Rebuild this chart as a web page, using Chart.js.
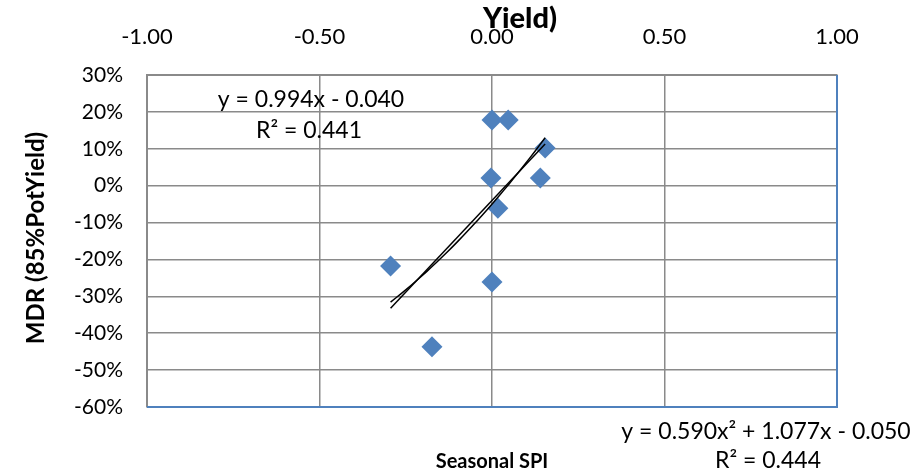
<!DOCTYPE html>
<html>
<head>
<meta charset="utf-8">
<script src="https://cdn.jsdelivr.net/npm/chart.js@4.4.1/dist/chart.umd.min.js"></script>
<style>
  html, body { margin: 0; padding: 0; background: #fff; }
  #wrap { width: 920px; height: 475px; }
</style>
</head>
<body>
<div id="wrap"><canvas id="spiChart"></canvas></div>
<script>
// Seasonal SPI vs MDR (85% potential yield)
const spiValues = [0.000, 0.047, 0.154, 0.140, -0.003, 0.017, -0.294, 0.000, -0.174];
const mdrValues = [0.178, 0.178, 0.102, 0.021, 0.021, -0.061, -0.218, -0.261, -0.437];

// trendline coefficients, highest power first
const linearCoef = [0.994, -0.040];
const polyCoef = [0.590, 1.077, -0.050];

const xTicks = [-1.0, -0.5, 0.0, 0.5, 1.0];
const yTicks = [0.3, 0.2, 0.1, 0.0, -0.1, -0.2, -0.3, -0.4, -0.5, -0.6];

const FONT = 'Lato, "Open Sans", sans-serif';

function evalPoly(coef, x) {
    return coef.reduce((acc, c) => acc * x + c, 0);
}

function trendPoints(coef, steps) {
    const lo = Math.min(...spiValues);
    const hi = Math.max(...spiValues);
    const pts = [];
    for (let i = 0; i <= steps; i++) {
        const x = lo + (hi - lo) * i / steps;
        pts.push({ x: x, y: evalPoly(coef, x) });
    }
    return pts;
}

const scatterPts = spiValues.map((x, i) => ({ x: x, y: mdrValues[i] }));

// labels, axis titles and the blue right/bottom frame
const annotations = {
    id: 'annotations',
    afterDraw(chart) {
        const ctx = chart.ctx;
        const a = chart.chartArea;
        ctx.save();

        ctx.strokeStyle = '#4F81BD';
        ctx.lineWidth = 2;
        ctx.beginPath();
        ctx.moveTo(a.left, a.bottom);
        ctx.lineTo(a.right, a.bottom);
        ctx.lineTo(a.right, a.top);
        ctx.stroke();

        ctx.fillStyle = '#000';
        ctx.textAlign = 'center';
        ctx.textBaseline = 'middle';

        ctx.font = '900 29px ' + FONT;
        ctx.fillText('Yield)', 520, 19);

        ctx.font = 'bold 20px ' + FONT;
        ctx.fillText('Seasonal SPI', 492, 462);

        ctx.save();
        ctx.translate(36, 238);
        ctx.rotate(-Math.PI / 2);
        ctx.font = 'bold 24px ' + FONT;
        ctx.fillText('MDR (85%PotYield)', 0, 0);
        ctx.restore();

        ctx.font = '23px ' + FONT;
        ctx.fillText('y = ' + linearCoef[0].toFixed(3) + 'x - ' + Math.abs(linearCoef[1]).toFixed(3), 311, 100);
        ctx.fillText('R\u00B2 = 0.441', 309, 131);
        ctx.fillText('y = ' + polyCoef[0].toFixed(3) + 'x\u00B2 + ' + polyCoef[1].toFixed(3) + 'x - ' + Math.abs(polyCoef[2]).toFixed(3), 766, 432);
        ctx.fillText('R\u00B2 = 0.444', 768, 461);

        ctx.restore();
    }
};

new Chart(document.getElementById('spiChart'), {
    type: 'scatter',
    data: {
        datasets: [
            {
                label: 'MDR',
                data: scatterPts,
                pointStyle: 'rectRot',
                pointRadius: 10.5,
                backgroundColor: '#4F81BD',
                borderColor: '#4F81BD',
                borderWidth: 0,
                order: 2
            },
            {
                label: 'Linear',
                data: trendPoints(linearCoef, 1),
                showLine: true,
                pointRadius: 0,
                borderColor: '#000',
                borderWidth: 1.5,
                order: 1
            },
            {
                label: 'Poly. (2)',
                data: trendPoints(polyCoef, 30),
                showLine: true,
                pointRadius: 0,
                borderColor: '#000',
                borderWidth: 1.5,
                order: 1
            }
        ]
    },
    options: {
        responsive: true,
        maintainAspectRatio: false,
        animation: false,
        events: [],
        layout: { padding: { left: 0, top: 0, right: 83, bottom: 68 } },
        plugins: {
            legend: { display: false },
            tooltip: { enabled: false }
        },
        scales: {
            x: {
                type: 'linear',
                position: 'top',
                min: -1,
                max: 1,
                afterFit(scale) { scale.height = 75; },
                afterBuildTicks(scale) { scale.ticks = xTicks.map(v => ({ value: v })); },
                grid: { color: '#8a8a8a', lineWidth: 1.5, drawTicks: false },
                border: { color: '#8a8a8a', width: 2 },
                ticks: {
                    padding: 25,
                    color: '#000',
                    font: { family: FONT, size: 22 },
                    callback: v => v.toFixed(2)
                }
            },
            y: {
                type: 'linear',
                min: -0.6,
                max: 0.3,
                afterFit(scale) { scale.width = 147; },
                afterBuildTicks(scale) { scale.ticks = yTicks.map(v => ({ value: v })); },
                grid: { color: '#8a8a8a', lineWidth: 1.5, drawTicks: false },
                border: { color: '#8a8a8a', width: 2 },
                ticks: {
                    padding: 24,
                    color: '#000',
                    font: { family: FONT, size: 21 },
                    callback: v => Math.round(v * 100) + '%'
                }
            }
        }
    },
    plugins: [annotations]
});
</script>
</body>
</html>
